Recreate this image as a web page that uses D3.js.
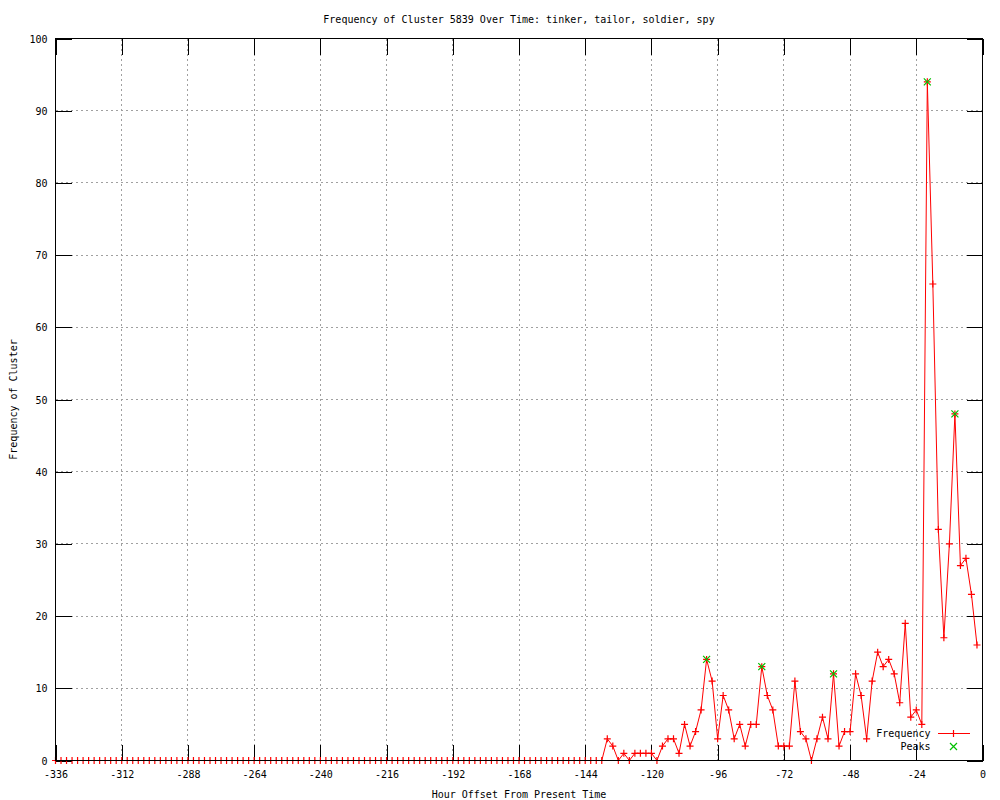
<!DOCTYPE html>
<html>
<head>
<meta charset="utf-8">
<script src="https://cdnjs.cloudflare.com/ajax/libs/d3/7.8.5/d3.min.js"></script>
<style>
  body { margin: 0; background: #fff; }
  text { font-family: "DejaVu Sans Mono", "Liberation Mono", monospace; font-size: 10px; fill: #000; }
</style>
</head>
<body>
<div id="chart"></div>
<script>
// chart values: one frequency per 2-hour bucket, starting at hour -336
const firstHour = -336;
const hourStep = 2;
const frequencies = [
  0, 0, 0, 0, 0, 0, 0, 0, 0, 0, 0, 0, 0, 0, 0, 0, 0, 0, 0, 0,
  0, 0, 0, 0, 0, 0, 0, 0, 0, 0, 0, 0, 0, 0, 0, 0, 0, 0, 0, 0,
  0, 0, 0, 0, 0, 0, 0, 0, 0, 0, 0, 0, 0, 0, 0, 0, 0, 0, 0, 0,
  0, 0, 0, 0, 0, 0, 0, 0, 0, 0, 0, 0, 0, 0, 0, 0, 0, 0, 0, 0,
  0, 0, 0, 0, 0, 0, 0, 0, 0, 0, 0, 0, 0, 0, 0, 0, 0, 0, 0, 0,
  3, 2, 0, 1, 0, 1, 1, 1, 1, 0,
  2, 3, 3, 1, 5, 2, 4, 7, 14, 11,
  3, 9, 7, 3, 5, 2, 5, 5, 13, 9,
  7, 2, 2, 2, 11, 4, 3, 0, 3, 6,
  3, 12, 2, 4, 4, 12, 9, 3, 11, 15,
  13, 14, 12, 8, 19, 6, 7, 5, 94, 66,
  32, 17, 30, 48, 27, 28, 23, 16
];
const peakHours = [-100, -80, -54, -20, -10];
const peakValues = [14, 13, 12, 94, 48];

const xTickValues = [-336, -312, -288, -264, -240, -216, -192, -168, -144, -120, -96, -72, -48, -24, 0];
const yTickValues = [0, 10, 20, 30, 40, 50, 60, 70, 80, 90, 100];

const chartTitleText = "Frequency of Cluster 5839 Over Time: tinker, tailor, soldier, spy";
const xLabelText = "Hour Offset From Present Time";
const yLabelText = "Frequency of Cluster";

// colors as gnuplot draws them
const FREQUENCY_COLOR = "#ff0000";
const PEAKS_COLOR = "#00c000";
const GRID_COLOR = "#a0a0a0";

const PLUS_SHAPE = "M-3.5,0H3.5M0,-3.5V3.5";
const CROSS_SHAPE = "M-3.5,-3.5L3.5,3.5M-3.5,3.5L3.5,-3.5";

let margin = null,
    width = null,
    height = null;
let svg = null;
let x = null,
    y = null;

renderChart();

function renderChart() {
  setupCanvasSize();
  appendSvg("#chart");
  setupScales();
  appendGrid();
  appendAxes();
  appendLabels();
  appendFrequencyLine();
  appendPeaks();
  appendBorder();
  appendLegend();
}

/**
 * @method setupCanvasSize
 * @description Sets margin, width and height of the plotting area
 */
function setupCanvasSize() {
  margin = {top: 38, left: 55, bottom: 40, right: 18};
  width = 1000 - margin.left - margin.right;
  height = 800 - margin.top - margin.bottom;
}

function appendSvg(domElement) {
  svg = d3.select(domElement)
    .append("svg")
    .attr("width", 1000)
    .attr("height", 800)
    .append("g")
    .attr("transform", `translate(${margin.left + 0.5}, ${margin.top + 0.5})`);
}

function setupScales() {
  x = d3.scaleLinear()
    .domain([-336, 0])
    .range([0, width]);

  y = d3.scaleLinear()
    .domain([0, 100])
    .range([height, 0]);
}

/**
 * @method appendGrid
 * @description Dotted grid lines at every major tick, inside the border
 */
function appendGrid() {
  let grid = svg.append("g").attr("class", "grid");

  grid.selectAll(".vgrid")
    .data(xTickValues.slice(1, -1))
    .enter().append("line")
    .attr("x1", d => Math.round(x(d)))
    .attr("x2", d => Math.round(x(d)))
    .attr("y1", 0)
    .attr("y2", height);

  grid.selectAll(".hgrid")
    .data(yTickValues.slice(1, -1))
    .enter().append("line")
    .attr("x1", 0)
    .attr("x2", width)
    .attr("y1", d => Math.round(y(d)))
    .attr("y2", d => Math.round(y(d)));

  grid.selectAll("line")
    .attr("stroke", GRID_COLOR)
    .attr("stroke-width", 1)
    .attr("stroke-dasharray", "2,3")
    .attr("shape-rendering", "crispEdges");
}

/**
 * @method appendAxes
 * @description Ticks on all four sides (gnuplot mirrors them), labels bottom and left
 */
function appendAxes() {
  const tickLength = 16;
  const fmt = d => String(d);

  let bottom = svg.append("g")
    .attr("class", "x axis")
    .attr("transform", `translate(0, ${height})`)
    .call(d3.axisBottom(x).tickValues(xTickValues).tickSize(-tickLength).tickPadding(0).tickFormat(fmt));
  bottom.selectAll("text").attr("y", 17).attr("dy", 0);

  svg.append("g")
    .attr("class", "x axis mirror")
    .call(d3.axisTop(x).tickValues(xTickValues).tickSize(-tickLength).tickFormat(""));

  let left = svg.append("g")
    .attr("class", "y axis")
    .call(d3.axisLeft(y).tickValues(yTickValues).tickSize(-tickLength).tickPadding(0).tickFormat(fmt));
  left.selectAll("text").attr("x", -8).attr("dy", "0.35em");

  svg.append("g")
    .attr("class", "y axis mirror")
    .attr("transform", `translate(${width}, 0)`)
    .call(d3.axisRight(y).tickValues(yTickValues).tickSize(-tickLength).tickFormat(""));

  svg.selectAll(".axis .domain").remove();
  svg.selectAll(".axis line")
    .attr("stroke", "#000")
    .attr("shape-rendering", "crispEdges");
  svg.selectAll(".axis text")
    .attr("font-family", null)
    .attr("font-size", null)
    .attr("fill", "#000");
}

function appendLabels() {
  svg.append("text")
    .attr("class", "chartTitle")
    .attr("x", width / 2)
    .attr("y", -16)
    .attr("text-anchor", "middle")
    .text(chartTitleText);

  svg.append("text")
    .attr("class", "x label")
    .attr("x", width / 2)
    .attr("y", height + 37)
    .attr("text-anchor", "middle")
    .text(xLabelText);

  svg.append("text")
    .attr("class", "y label")
    .attr("transform", `translate(-39, ${height / 2}) rotate(-90)`)
    .attr("text-anchor", "middle")
    .text(yLabelText);
}

/**
 * @method appendFrequencyLine
 * @description Red line through every bucket, with a "+" at each point
 */
function appendFrequencyLine() {
  let dataset = frequencies.map((value, i) => ({hour: firstHour + i * hourStep, value: value}));

  let line = d3.line()
    .x(d => x(d.hour))
    .y(d => y(d.value));

  svg.append("path")
    .datum(dataset)
    .attr("fill", "none")
    .attr("stroke", FREQUENCY_COLOR)
    .attr("stroke-width", 1)
    .attr("d", line);

  svg.selectAll(".plus")
    .data(dataset)
    .enter().append("path")
    .attr("class", "plus")
    .attr("transform", d => `translate(${x(d.hour)}, ${y(d.value)})`)
    .attr("d", PLUS_SHAPE)
    .attr("fill", "none")
    .attr("stroke", FREQUENCY_COLOR)
    .attr("stroke-width", 1.2);
}

function appendPeaks() {
  let peaks = peakHours.map((hour, i) => ({hour: hour, value: peakValues[i]}));

  svg.selectAll(".peak")
    .data(peaks)
    .enter().append("path")
    .attr("class", "peak")
    .attr("transform", d => `translate(${x(d.hour)}, ${y(d.value)})`)
    .attr("d", CROSS_SHAPE)
    .attr("fill", "none")
    .attr("stroke", PEAKS_COLOR)
    .attr("stroke-width", 1.2);
}

function appendBorder() {
  svg.append("rect")
    .attr("x", 0)
    .attr("y", 0)
    .attr("width", width)
    .attr("height", height)
    .attr("fill", "none")
    .attr("stroke", "#000")
    .attr("stroke-width", 1)
    .attr("shape-rendering", "crispEdges");
}

/**
 * @method appendLegend
 * @description gnuplot style key in the bottom right corner
 */
function appendLegend() {
  let legend = svg.append("g")
    .attr("class", "legend")
    .attr("transform", `translate(${width - 52}, ${height - 27})`);

  legend.append("text")
    .attr("x", 0)
    .attr("y", 0)
    .attr("dy", "0.35em")
    .attr("text-anchor", "end")
    .text("Frequency");

  legend.append("line")
    .attr("x1", 7)
    .attr("x2", 39)
    .attr("y1", 0)
    .attr("y2", 0)
    .attr("stroke", FREQUENCY_COLOR)
    .attr("shape-rendering", "crispEdges");

  legend.append("path")
    .attr("transform", "translate(23, 0)")
    .attr("d", PLUS_SHAPE)
    .attr("fill", "none")
    .attr("stroke", FREQUENCY_COLOR)
    .attr("stroke-width", 1.2);

  legend.append("text")
    .attr("x", 0)
    .attr("y", 13)
    .attr("dy", "0.35em")
    .attr("text-anchor", "end")
    .text("Peaks");

  legend.append("path")
    .attr("transform", "translate(23, 13)")
    .attr("d", CROSS_SHAPE)
    .attr("fill", "none")
    .attr("stroke", PEAKS_COLOR)
    .attr("stroke-width", 1.2);
}
</script>
</body>
</html>
